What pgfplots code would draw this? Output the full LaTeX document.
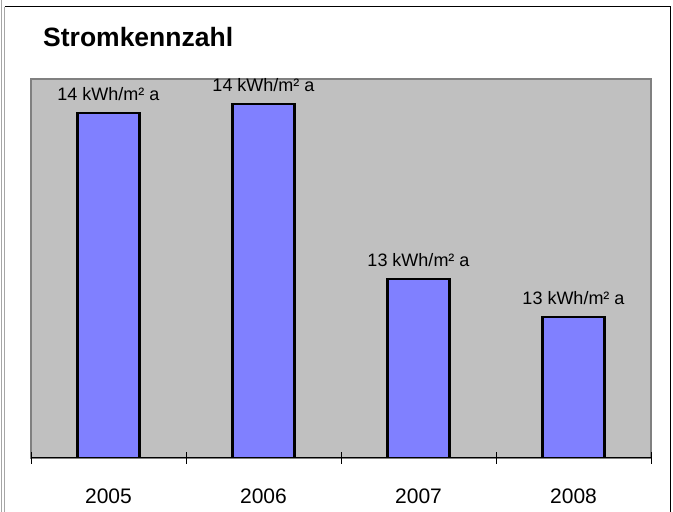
\documentclass[border=0pt]{standalone}
\usepackage{pgfplots}
\pgfplotsset{compat=1.18}
\usepackage{fontspec}
\setmainfont{Liberation Sans}
\definecolor{barblue}{HTML}{8080FF}
\definecolor{bggray}{HTML}{C0C0C0}
\definecolor{bordergray}{HTML}{808080}
\begin{document}
\begin{tikzpicture}[x=1bp,y=1bp]
\path[use as bounding box] (0,0) rectangle (673,512);
\draw[gray!70, line width=1bp] (1.5,0) -- (1.5,512);
\draw[gray!70, line width=1bp] (4.5,0) -- (4.5,505);
\draw[black, line width=1bp] (4.5,505) -- (670,505) -- (670,0);
\node[anchor=base west, inner sep=0pt, font=\fontsize{26.5bp}{30bp}\selectfont\bfseries] at (43,465) {Stromkennzahl};
\begin{axis}[
  at={(31bp,54bp)}, anchor=south west,
  scale only axis, width=620bp, height=379bp,
  xmin=-0.5, xmax=3.5, ymin=12.5, ymax=14.6,
  ybar, bar width=62bp,
  axis line style={draw=none},
  axis background/.style={fill=bggray, draw=bordergray, line width=1.4bp},
  ytick=\empty,
  xtick={0,1,2,3},
  xticklabels={2005,2006,2007,2008},
  major x tick style={draw=none},
  minor xtick={-0.5,0.5,1.5,2.5,3.5},
  minor tick length=12bp,
  tick align=center,
  minor x tick style={black, line width=0.6bp},
  xtick pos=bottom,
  xticklabel style={anchor=base, yshift=-43bp, font=\fontsize{21bp}{24bp}\selectfont},
  point meta=explicit symbolic,
  nodes near coords,
  nodes near coords style={anchor=base, yshift=13bp, font=\fontsize{18bp}{21bp}\selectfont, inner sep=0pt},
]
\addplot[fill=barblue, draw=black, line width=2.2bp] coordinates {
  (0,14.41) [14 kWh/m² a]
  (1,14.46) [14 kWh/m² a]
  (2,13.49) [13 kWh/m² a]
  (3,13.28) [13 kWh/m² a]
};
\draw[black, line width=1.4bp] (rel axis cs:0,0) -- (rel axis cs:1,0);
\end{axis}
\end{tikzpicture}
\end{document}
